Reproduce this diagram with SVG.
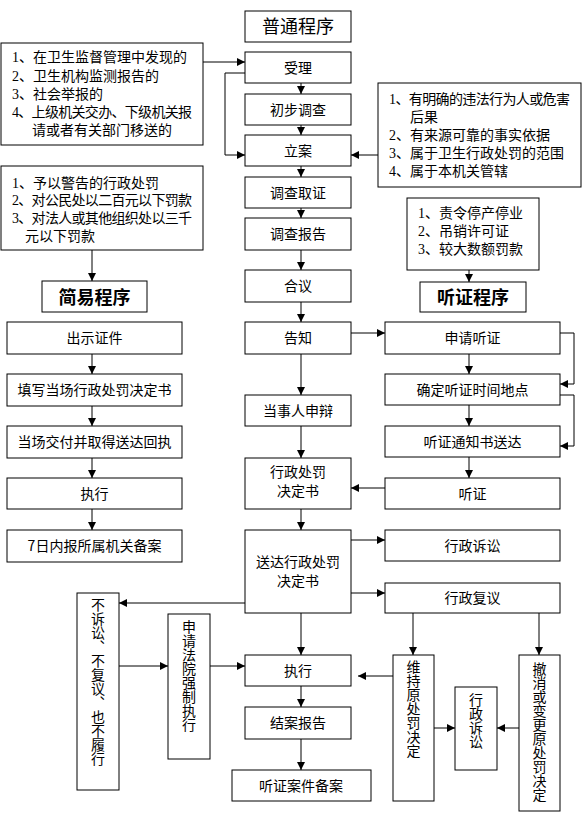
<svg xmlns="http://www.w3.org/2000/svg" width="582" height="822" viewBox="0 0 582 822">
<defs>
<marker id="ah" markerWidth="8" markerHeight="8" refX="8" refY="4" orient="auto" markerUnits="userSpaceOnUse">
<path d="M0,0 L8,4 L0,8 z" fill="#000"/>
</marker>
</defs>
<style>
rect{fill:#fff;stroke:#000;stroke-width:1}
text{font-family:"Noto Sans CJK SC","Liberation Sans",sans-serif;font-size:14px;fill:#000}
.c{text-anchor:middle}
.t{font-size:18px}
.b{font-weight:bold}
.l{font-family:"Liberation Serif","Noto Sans CJK SC",serif}
.v{writing-mode:vertical-rl;text-orientation:upright}
#conn path{fill:none;stroke:#000;stroke-width:1;marker-end:url(#ah)}
</style>
<rect x="0" y="0" width="582" height="822" style="fill:#fff;stroke:none"/>
<g id="conn">
<path d="M203,62 H245"/>
<path d="M245,73 H225 V155 H245"/>
<path d="M378,155 H351"/>
<path d="M301,83 V94"/>
<path d="M301,125 V135"/>
<path d="M301,166 V177"/>
<path d="M301,208 V218"/>
<path d="M301,250 V270"/>
<path d="M301,302 V322"/>
<path d="M301,354 V395"/>
<path d="M301,426 V458"/>
<path d="M301,509 V530"/>
<path d="M301,613 V655"/>
<path d="M301,686 V707"/>
<path d="M301,739 V770"/>
<path d="M351,333 H385"/>
<path d="M560,333 H574 V384 H560"/>
<path d="M560,395 H574 V446 H560"/>
<path d="M469,270 V282"/>
<path d="M469,354 V374"/>
<path d="M469,405 V426"/>
<path d="M469,457 V478"/>
<path d="M385,488 H351"/>
<path d="M351,540 H385"/>
<path d="M351,593 H385"/>
<path d="M245,603 H119"/>
<path d="M119,666 H168"/>
<path d="M210,666 H245"/>
<path d="M413,613 V655"/>
<path d="M539,613 V655"/>
<path d="M393,676 H358"/>
<path d="M434,728 H455"/>
<path d="M519,728 H497"/>
<path d="M92,250 V281"/>
<path d="M92,354 V374"/>
<path d="M92,406 V426"/>
<path d="M92,458 V478"/>
<path d="M92,509 V530"/>
</g>
<g id="cond1"><rect x="1" y="43" width="202" height="102"/>
<text class="l" x="12" y="62">1、在卫生监督管理中发现的</text>
<text class="l" x="12" y="81">2、卫生机构监测报告的</text>
<text class="l" x="12" y="99">3、社会举报的</text>
<text class="l" x="12" y="117" textLength="180" lengthAdjust="spacing">4、上级机关交办、下级机关报</text>
<text class="l" x="32" y="135">请或者有关部门移送的</text></g>
<g id="cond2"><rect x="1" y="166" width="202" height="84"/>
<text class="l" x="12" y="188">1、予以警告的行政处罚</text>
<text class="l" x="12" y="205" textLength="180" lengthAdjust="spacing">2、对公民处以二百元以下罚款</text>
<text class="l" x="12" y="223" textLength="180" lengthAdjust="spacing">3、对法人或其他组织处以三千</text>
<text class="l" x="25" y="241">元以下罚款</text></g>
<g id="cond3"><rect x="378" y="83" width="203" height="104"/>
<text class="l" x="389" y="104" textLength="181" lengthAdjust="spacing">1、有明确的违法行为人或危害</text>
<text class="l" x="410" y="122">后果</text>
<text class="l" x="389" y="140">2、有来源可靠的事实依据</text>
<text class="l" x="389" y="158">3、属于卫生行政处罚的范围</text>
<text class="l" x="389" y="176">4、属于本机关管辖</text></g>
<g id="cond4"><rect x="407" y="198" width="132" height="72"/>
<text class="l" x="418" y="218">1、责令停产停业</text>
<text class="l" x="418" y="236">2、吊销许可证</text>
<text class="l" x="418" y="254">3、较大数额罚款</text></g>
<g id="title_normal"><rect x="245" y="11" width="106" height="31"/><text class="c t" x="298" y="33">普通程序</text></g>
<g id="n_accept"><rect x="245" y="52" width="106" height="31"/><text class="c" x="298" y="73">受理</text></g>
<g id="n_prelim"><rect x="245" y="94" width="106" height="31"/><text class="c" x="298" y="115">初步调查</text></g>
<g id="n_file"><rect x="245" y="135" width="106" height="31"/><text class="c" x="298" y="156">立案</text></g>
<g id="n_evid"><rect x="245" y="177" width="106" height="31"/><text class="c" x="298" y="198">调查取证</text></g>
<g id="n_report"><rect x="245" y="218" width="106" height="32"/><text class="c" x="298" y="239">调查报告</text></g>
<g id="n_discuss"><rect x="245" y="270" width="106" height="32"/><text class="c" x="298" y="291">合议</text></g>
<g id="n_notify"><rect x="245" y="322" width="106" height="32"/><text class="c" x="298" y="343">告知</text></g>
<g id="n_defend"><rect x="245" y="395" width="106" height="31"/><text class="c" x="298" y="416">当事人申辩</text></g>
<g id="n_decision"><rect x="245" y="458" width="106" height="51"/><text class="c l" x="298" y="477">行政处罚</text><text class="c l" x="298" y="496">决定书</text></g>
<g id="n_deliver"><rect x="245" y="530" width="106" height="83"/><text class="c l" x="298" y="567">送达行政处罚</text><text class="c l" x="298" y="586">决定书</text></g>
<g id="n_exec"><rect x="245" y="655" width="106" height="31"/><text class="c" x="298" y="676">执行</text></g>
<g id="n_close"><rect x="245" y="707" width="106" height="32"/><text class="c" x="298" y="728">结案报告</text></g>
<g id="n_archive"><rect x="232" y="770" width="139" height="31"/><text class="c" x="301" y="791">听证案件备案</text></g>
<g id="title_simple"><rect x="42" y="281" width="105" height="31"/><text class="c t b" x="94.5" y="304">简易程序</text></g>
<g id="s_id"><rect x="7" y="322" width="175" height="32"/><text class="c" x="94.5" y="343">出示证件</text></g>
<g id="s_fill"><rect x="7" y="374" width="175" height="32"/><text class="c" x="94.5" y="395">填写当场行政处罚决定书</text></g>
<g id="s_hand"><rect x="7" y="426" width="175" height="32"/><text class="c" x="94.5" y="447">当场交付并取得送达回执</text></g>
<g id="s_exec"><rect x="7" y="478" width="175" height="31"/><text class="c" x="94.5" y="499">执行</text></g>
<g id="s_report"><rect x="7" y="530" width="175" height="32"/><text class="c" x="94.5" y="551">7日内报所属机关备案</text></g>
<g id="title_hearing"><rect x="420" y="282" width="106" height="30"/><text class="c t b" x="473" y="304">听证程序</text></g>
<g id="h_apply"><rect x="385" y="322" width="175" height="32"/><text class="c" x="472.5" y="343">申请听证</text></g>
<g id="h_time"><rect x="385" y="374" width="175" height="31"/><text class="c" x="472.5" y="395">确定听证时间地点</text></g>
<g id="h_notice"><rect x="385" y="426" width="175" height="31"/><text class="c" x="472.5" y="447">听证通知书送达</text></g>
<g id="h_hearing"><rect x="385" y="478" width="175" height="31"/><text class="c" x="472.5" y="499">听证</text></g>
<g id="r_lit"><rect x="385" y="530" width="175" height="31"/><text class="c" x="472.5" y="551">行政诉讼</text></g>
<g id="r_review"><rect x="385" y="583" width="175" height="30"/><text class="c" x="472.5" y="603">行政复议</text></g>
<g id="v_none"><rect x="77" y="593" width="42" height="197"/><text class="v" x="98" y="598">不诉讼、不复议、也不履行</text></g>
<g id="v_court"><rect x="168" y="614" width="42" height="145"/><text class="v" x="189" y="620">申请法院强制执行</text></g>
<g id="v_keep"><rect x="393" y="655" width="41" height="146"/><text class="v" x="413.5" y="660">维持原处罚决定</text></g>
<g id="v_lit"><rect x="455" y="687" width="42" height="83"/><text class="v" x="476" y="693">行政诉讼</text></g>
<g id="v_revoke"><rect x="519" y="655" width="41" height="156"/><text class="v" x="539.5" y="662">撤消或变更原处罚决定</text></g>
</svg>
